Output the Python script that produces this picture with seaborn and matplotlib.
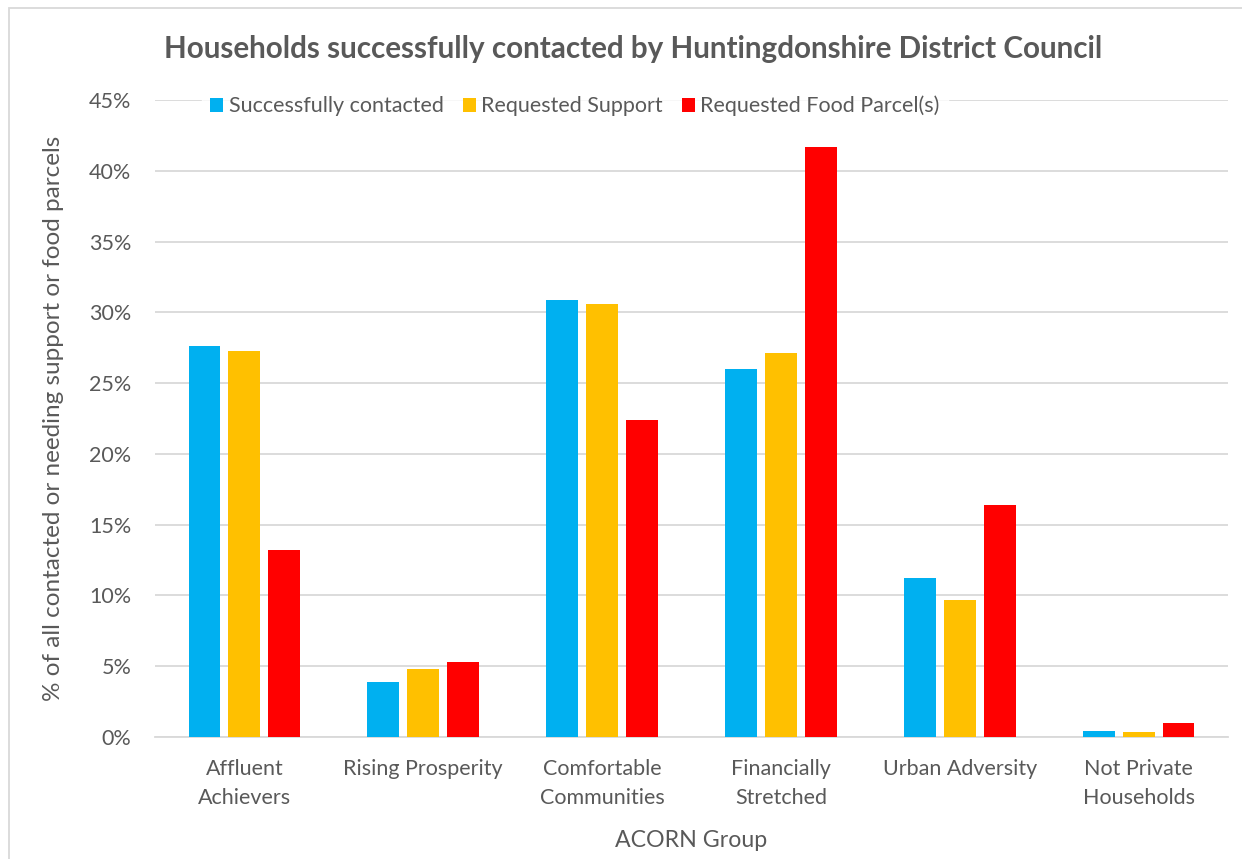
import matplotlib
matplotlib.use("Agg")
import matplotlib.pyplot as plt
import seaborn as sns
import pandas as pd
from matplotlib.patches import Rectangle
from matplotlib.ticker import PercentFormatter

groups = ["Affluent\nAchievers", "Rising Prosperity", "Comfortable\nCommunities",
          "Financially\nStretched", "Urban Adversity", "Not Private\nHouseholds"]
series = ["Successfully contacted", "Requested Support", "Requested Food Parcel(s)"]
contacted = [27.6, 3.9, 30.9, 26.0, 11.2, 0.4]
support = [27.3, 4.8, 30.6, 27.1, 9.7, 0.35]
food = [13.2, 5.3, 22.4, 41.7, 16.4, 1.0]
colors = ["#00B0F0", "#FFC000", "#FF0000"]

rows = []
for s, vals in zip(series, [contacted, support, food]):
    for g, v in zip(groups, vals):
        rows.append({"group": g, "series": s, "value": v / 100.0})
df = pd.DataFrame(rows)

sns.set_theme(style="white")
plt.rcParams["font.family"] = ["Lato", "DejaVu Sans"]
text_col = "#595959"

fig = plt.figure(figsize=(12.42, 8.59), dpi=100)
ax = fig.add_axes([155 / 1242, 1 - 737 / 859, (1228 - 155) / 1242, (737 - 100) / 859])

sns.barplot(data=df, x="group", y="value", hue="series", order=groups,
            hue_order=series, palette=colors, width=0.67, gap=0.2,
            errorbar=None, linewidth=0, saturation=1, ax=ax, zorder=3)

ax.set_ylim(0, 0.45)
ax.set_xlim(-0.5, 5.5)
ax.set_yticks([i * 0.05 for i in range(10)])
ax.yaxis.set_major_formatter(PercentFormatter(1.0, decimals=0))
ax.grid(axis="y", color="#d9d9d9", linewidth=1.3, zorder=0)
ax.set_axisbelow(True)
for sp in ["top", "right", "left"]:
    ax.spines[sp].set_visible(False)
ax.spines["bottom"].set_color("#d9d9d9")
ax.spines["bottom"].set_linewidth(1.3)
ax.tick_params(axis="both", length=0, labelsize=15.5, colors=text_col)
ax.tick_params(axis="y", pad=17)
ax.tick_params(axis="x", pad=16)
for t in ax.get_xticklabels():
    t.set_linespacing(1.55)

ax.set_xlabel("ACORN Group", fontsize=16.7, color=text_col, labelpad=16)
ax.set_ylabel("% of all contacted or needing support or food parcels", fontsize=17.5,
              color=text_col, labelpad=18)

leg = ax.legend(loc="center", bbox_to_anchor=(575 / 1242, 1 - 106 / 859),
                bbox_transform=fig.transFigure, ncol=3, frameon=True,
                fontsize=15.5, handlelength=0.6, handleheight=0.6,
                handletextpad=0.25, columnspacing=0.9, borderpad=0.4)
leg.get_frame().set_facecolor("white")
leg.get_frame().set_edgecolor("white")
leg.set_zorder(5)
for t in leg.get_texts():
    t.set_color(text_col)

fig.text(633 / 1242, 1 - 49 / 859,
         "Households successfully contacted by Huntingdonshire District Council",
         ha="center", va="center", fontsize=21.3, fontweight="bold", color=text_col)

fig.patches.append(Rectangle((9 / 1242, -0.01), 1, 1 - 8 / 859 + 0.01,
                             transform=fig.transFigure, fill=False,
                             edgecolor="#d9d9d9", linewidth=1.3))

fig.savefig("out.png", dpi=100)
